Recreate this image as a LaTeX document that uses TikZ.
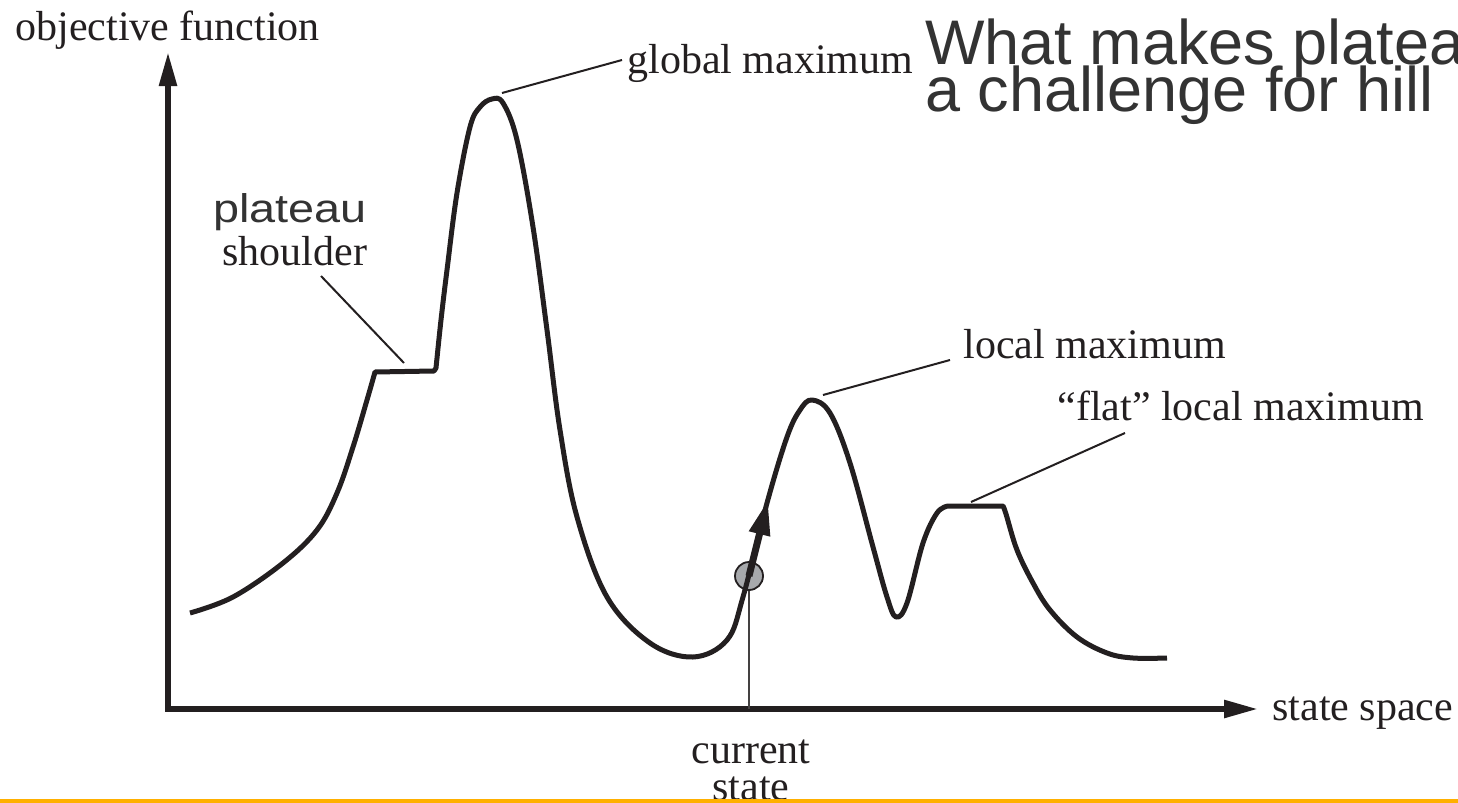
\documentclass[tikz,border=0pt]{standalone}
\usepackage{fontspec}
\setmainfont{Liberation Serif}
\newfontfamily\headfont{Liberation Sans}
\usetikzlibrary{arrows.meta}
\definecolor{ink}{HTML}{231F20}
\definecolor{headgray}{HTML}{333333}
\definecolor{dotgray}{HTML}{A7A9AC}
\definecolor{rulegold}{HTML}{FFB000}
\begin{document}
\begin{tikzpicture}[x=0.5pt,y=-0.5pt,
  lbl/.style={font=\fontsize{21}{18.5}\selectfont, text=ink, inner sep=0pt},
  axisline/.style={draw=ink, line width=2.8pt, line join=miter,
    {Triangle[length=17pt,width=8.5pt]}-{Triangle[length=17pt,width=8.5pt]}},
  landscape/.style={draw=ink, line width=2.5pt, line join=round, line cap=butt},
  leader/.style={draw=ink, line width=1pt},
  headline/.style={font=\headfont\fontsize{31.5}{24}\selectfont, text=headgray,
    inner sep=0pt, anchor=base west},
]
\useasboundingbox (0,0) rectangle (1458,803);
\clip (0,0) rectangle (1458,803);

% axes
\coordinate (origin) at (168,709);
\coordinate (ytip) at (168,52);
\coordinate (xtip) at (1258,709);
\draw[axisline] (ytip) -- (origin) -- (xtip);

\node[lbl, anchor=base west] (ylab) at (15,40) {objective function};
\node[lbl, anchor=base west] (xlab) at (1272,720) {state space};

% title
\node[headline] (title1) at (925,64) {What makes platea};
\node[headline] (title2) at (925,112) {a challenge for hill};

% current state marker
\node[circle, draw=ink, fill=dotgray, line width=0.9pt, minimum size=14pt, inner sep=0pt]
  (dot) at (749,576) {};
\draw[draw=ink!85, line width=1.2pt] (dot.south) -- (dot.south |- origin);
\node[lbl, align=center, anchor=base] (cs) at (751,800) {current\\state};

% the landscape
\draw[landscape]
  plot[smooth, tension=0.6] coordinates {(190,613) (233,597) (283,563) (317,530)
    (337,493) (353,447) (367,400) (375,372)}
  -- (434,371)
  -- plot[smooth, tension=0.6] coordinates {(436,368) (441,320) (447,270) (457,193)
    (470,127) (480,107) (492,99) (503,103) (517,140) (533,227) (547,330) (560,430)
    (577,517) (607,597) (650,643) (693,657) (727,640) (743,597) (767,503) (787,437)
    (800,410) (812,400) (830,413) (850,463) (873,547) (887,597) (896,617) (907,603)
    (923,543) (937,513) (948,506)}
  -- (1003,506)
  -- plot[smooth, tension=0.6] coordinates {(1003,506) (1006,514) (1017,550)
    (1033,583) (1050,610) (1077,637) (1107,653) (1133,658) (1167,658)};

% uphill step
\coordinate (steptip) at (768,500);
\draw[draw=ink, line width=3.5pt, -{Triangle[length=17.5pt,width=10pt]}] (dot.center) -- (steptip);

% annotations
\coordinate (gpeak) at (502,93);
\coordinate (gend) at (622,60);
\node[lbl, anchor=base west] (gmax) at (627,73) {global maximum};
\draw[leader] (gpeak) -- (gend);

\node[headline, font=\headfont\fontsize{20}{24}\selectfont] (plat) at (213,222)
  {\scalebox{1.17}[1]{plateau}};
\node[lbl, anchor=base west] (shoulder) at (222,265) {shoulder};
\coordinate (sstart) at (321,276);
\coordinate (send) at (404,363);
\draw[leader] (sstart) -- (send);

\coordinate (lpeak) at (823,395);
\coordinate (lend) at (950,360);
\node[lbl, anchor=base west] (lmax) at (963,358) {local maximum};
\draw[leader] (lpeak) -- (lend);

\coordinate (fpeak) at (971,502);
\coordinate (fend) at (1125,433);
\node[lbl, anchor=base west] (fmax) at (1057,420) {``flat'' local maximum};
\draw[leader] (fpeak) -- (fend);

% footer rule
\draw[draw=rulegold, line width=2pt] (0,801) -- (1458,801);
\end{tikzpicture}
\end{document}
